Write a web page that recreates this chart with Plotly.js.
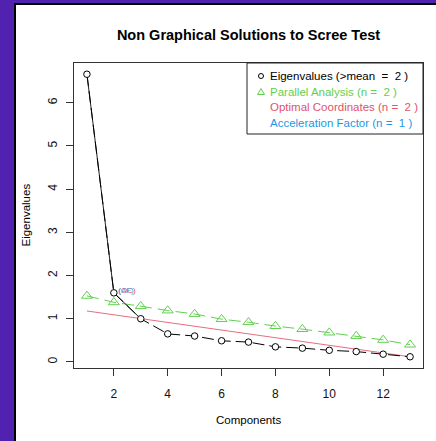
<!DOCTYPE html>
<html><head><meta charset="utf-8">
<script src="https://cdn.plot.ly/plotly-3.0.1.min.js"></script>
<style>
html,body{margin:0;padding:0;width:436px;height:441px;overflow:hidden;background:#5122b0;}
#frame{position:absolute;left:14px;top:3px;width:422px;height:438px;background:#fff;border-left:2px solid #000;border-top:2px solid #000;box-sizing:border-box;}
#chart{position:absolute;left:0;top:0;width:436px;height:441px;}
</style></head>
<body>
<div id="frame"></div>
<div id="chart"></div>
<script>
const components = [1,2,3,4,5,6,7,8,9,10,11,12,13];
const eigenvalues = [6.66,1.60,1.00,0.65,0.60,0.49,0.46,0.35,0.32,0.27,0.24,0.18,0.12];
const parallel = [1.53,1.38,1.29,1.19,1.11,0.99,0.92,0.83,0.76,0.68,0.60,0.51,0.40];
const ocX = [1,13];
const ocY = [1.18,0.12];
const xTicks = [2,4,6,8,10,12];
const yTicks = [0,1,2,3,4,5,6];
const legendLabels = ["Eigenvalues (>mean  =  2 )","Parallel Analysis (n =  2 )","Optimal Coordinates (n =  2 )","Acceleration Factor (n =  1 )"];
const labelOC = " (OC)";
const labelAF = " (AF)";

const cBlack = "#000000", cGreen = "#61D04F", cRed = "#DF536B", cBlue = "#2297E6";
const font = "Liberation Sans, Arial, sans-serif";

const traces = [
  {x: ocX, y: ocY, mode: "lines", line: {color: cRed, width: 1}, opacity: 0.85, hoverinfo: "skip"},
  {x: components, y: parallel, mode: "lines+markers",
   line: {color: cGreen, width: 1, dash: "12px,6px"},
   marker: {symbol: "triangle-up-open", size: 9.5, color: cGreen, line: {width: 1, color: cGreen}}},
  {x: components.slice(0,3), y: eigenvalues.slice(0,3), mode: "lines", line: {color: "#222", width: 1}},
  {x: components, y: eigenvalues, mode: "lines+markers",
   line: {color: cBlack, width: 1, dash: "12px,5px"},
   marker: {symbol: "circle", size: 6.5, color: "#ffffff", line: {width: 1, color: cBlack}}}
];

const L = 74, R = 423, T = 63, B = 368, W = 436, H = 441;
const pw = R - L, ph = B - T;
const px = v => (v - L) / pw;
const py = v => (B - v) / ph;

const legRowsY = [76, 92, 107.5, 123];
const legColors = [cBlack, cGreen, cRed, cBlue];
const annotations = legendLabels.map((t, i) => ({
  text: t, xref: "paper", yref: "paper", x: px(268), y: py(legRowsY[i]),
  xanchor: "left", yanchor: "middle", showarrow: false,
  font: {family: font, size: 11.5, color: legColors[i]}
}));
annotations.push({text: labelOC, x: components[1], y: eigenvalues[1], xanchor: "left", yanchor: "middle", yshift: 2, showarrow: false, font: {family: font, size: 8, color: cRed}});
annotations.push({text: labelAF, x: components[1], y: eigenvalues[1], xanchor: "left", yanchor: "middle", yshift: 2, showarrow: false, font: {family: font, size: 8, color: cBlue}, opacity: 0.85});
annotations.push({text: "Components", xref: "paper", yref: "paper", x: 0.5, y: py(420), xanchor: "center", yanchor: "middle", showarrow: false, font: {family: font, size: 11.5, color: "#000"}});
annotations.push({text: "Eigenvalues", xref: "paper", yref: "paper", x: px(25), y: 0.5, xanchor: "center", yanchor: "middle", textangle: -90, showarrow: false, font: {family: font, size: 11.5, color: "#000"}});

const shapes = [
  {type: "rect", xref: "paper", yref: "paper", x0: px(247), x1: 1, y0: py(134), y1: 1, line: {color: "#222", width: 1}},
  {type: "circle", xref: "paper", yref: "paper", xsizemode: "pixel", ysizemode: "pixel",
   xanchor: px(261), yanchor: py(legRowsY[0]), x0: -2.5, x1: 2.5, y0: -2.5, y1: 2.5, line: {color: cBlack, width: 1}},
  {type: "path", xref: "paper", yref: "paper", xsizemode: "pixel", ysizemode: "pixel",
   xanchor: px(261), yanchor: py(legRowsY[1]), path: "M -3.5 -2.5 L 3.5 -2.5 L 0 3.5 Z", line: {color: cGreen, width: 1}}
];

const layout = {
  width: W, height: H,
  margin: {l: L, r: W - R, t: T, b: H - B, pad: 0},
  paper_bgcolor: "rgba(0,0,0,0)", plot_bgcolor: "#ffffff",
  showlegend: false,
  title: {text: "<b>Non Graphical Solutions to Scree Test</b>", x: 0.5, xref: "paper", y: 1 - 35 / H, yref: "container", yanchor: "middle",
          font: {family: font, size: 14.5, color: "#000"}},
  xaxis: {range: [0.52, 13.48], tickvals: xTicks, ticktext: xTicks.map(String), ticks: "outside", ticklen: 7, tickcolor: "#333",
          showgrid: false, zeroline: false, showline: true, mirror: true, linecolor: "#333", linewidth: 1,
          tickfont: {family: font, size: 12, color: "#111"}, ticklabelstandoff: 8},
  yaxis: {range: [-0.14, 6.92], tickvals: yTicks, ticktext: yTicks.map(String), ticks: "outside", ticklen: 7, tickcolor: "#333",
          tickangle: -90, showgrid: false, zeroline: false, showline: true, mirror: true, linecolor: "#333", linewidth: 1,
          tickfont: {family: font, size: 12, color: "#111"}, ticklabelstandoff: 4},
  annotations: annotations,
  shapes: shapes
};

Plotly.newPlot("chart", traces, layout, {displayModeBar: false, staticPlot: true});
</script>
</body></html>
